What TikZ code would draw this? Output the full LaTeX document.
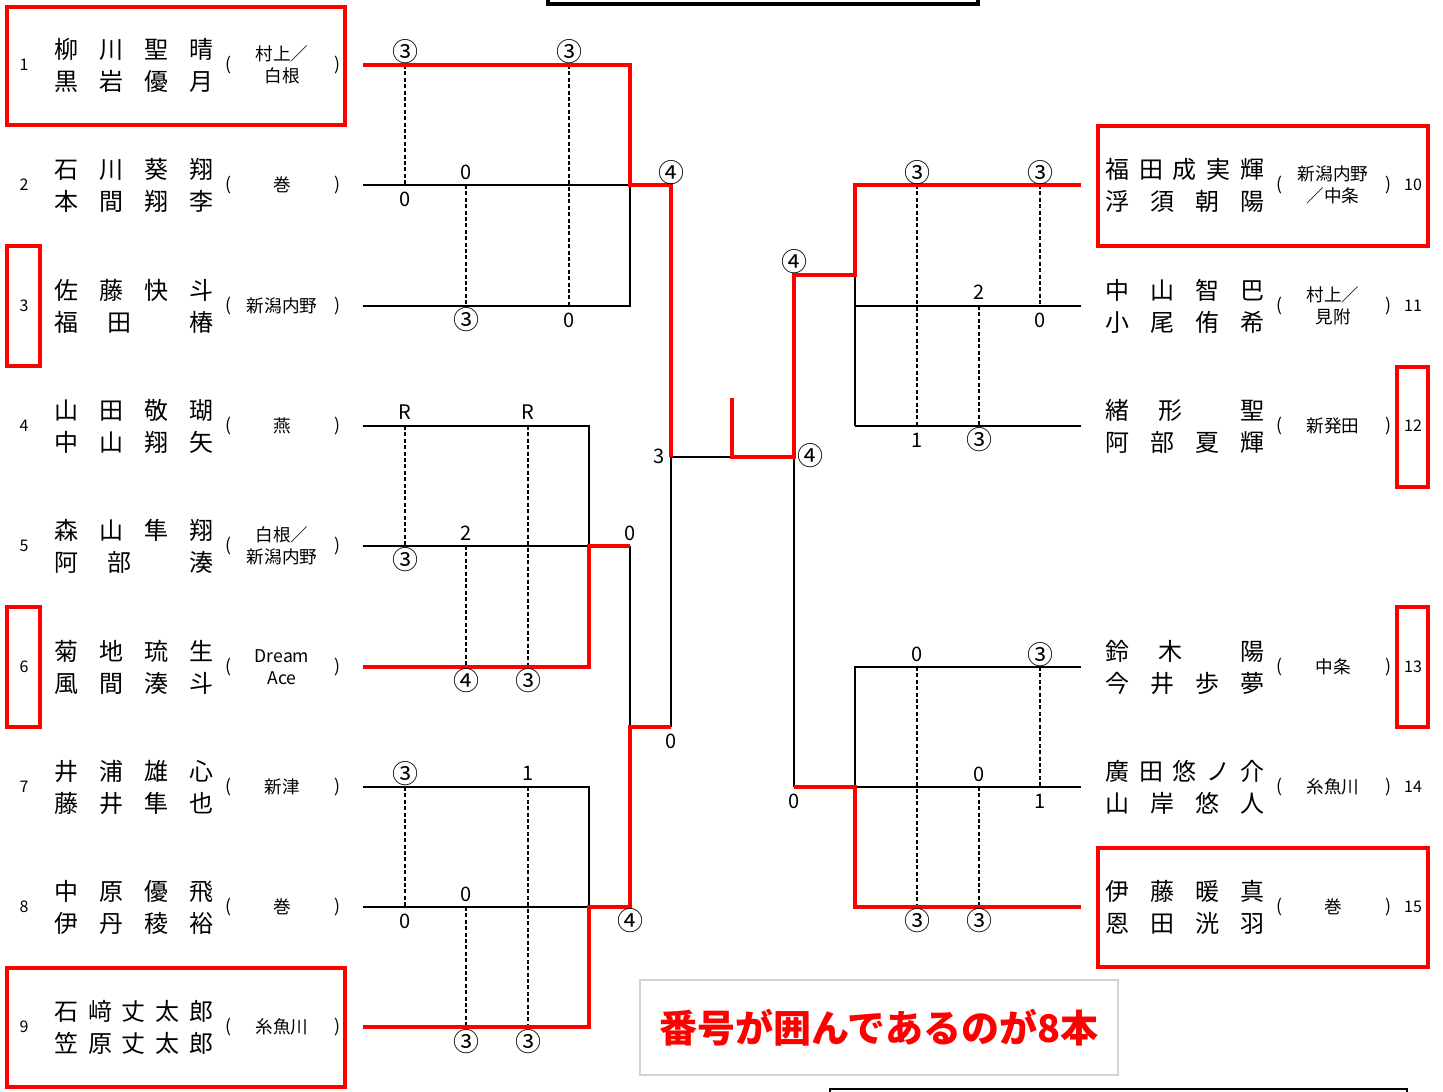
\documentclass[tikz,border=0pt]{standalone}
\usepackage{fontspec}
\setmainfont{Noto Sans CJK JP}
\begin{document}
\begin{tikzpicture}[x=0.5pt,y=-0.5pt,
  bl/.style={line width=1pt,black},
  rd/.style={line width=2pt,red,line join=miter},
  dsh/.style={line width=0.7pt,black,dash pattern=on 2pt off 1.2pt},
  rbox/.style={draw=red,line width=1.8pt},
  sc/.style={font=\fontsize{10}{10}\selectfont,inner sep=0pt},
  scc/.style={font=\fontsize{13}{13}\selectfont,inner sep=0pt},
  nm/.style={font=\fontsize{12}{12}\selectfont,inner sep=0pt},
  cl/.style={font=\fontsize{8.8}{11}\selectfont,inner sep=0pt,align=center},
  par/.style={font=\fontsize{8.8}{11}\selectfont,inner sep=0pt},
  num/.style={font=\fontsize{8}{8}\selectfont,inner sep=0pt}]
\useasboundingbox (0,0) rectangle (1443,1091);
\fill[white] (0,0) rectangle (1443,1091);
\newcommand\nmrow[4]{\node[nm,anchor=west] (#1) at (#2,#3) {\makebox[79.5pt]{#4}};}
\newcommand\entryL[6]{%
  \node[num] (n#1) at (24,#2) {#1};
  \nmrow{t#1}{54}{#2-16}{#3}
  \nmrow{b#1}{54}{#2+16}{#4}
  \node[par] (po#1) at (228,#2) {(};
  \node[cl] (c#1) at (282,#2) {#5};
  \node[par] (pc#1) at (337,#2) {)};}
\newcommand\entryR[6]{%
  \node[num] (n#1) at (1413,#2) {#1};
  \nmrow{t#1}{1105}{#2-16}{#3}
  \nmrow{b#1}{1105}{#2+16}{#4}
  \node[par] (po#1) at (1279,#2) {(};
  \node[cl] (c#1) at (1333,#2) {#5};
  \node[par] (pc#1) at (1388,#2) {)};}
% top and bottom partial boxes
\draw[line width=2pt] (548,-6) -- (548,4) -- (978,4) -- (978,-6);
\draw[line width=1pt] (830,1100) -- (830,1089) -- (1407,1089) -- (1407,1100);
% entries left
\entryL{1}{65}{柳\hfill 川\hfill 聖\hfill 晴}{黒\hfill 岩\hfill 優\hfill 月}{村上／\\白根}{}
\entryL{2}{185}{石\hfill 川\hfill 葵\hfill 翔}{本\hfill 間\hfill 翔\hfill 李}{巻}{}
\entryL{3}{306}{佐\hfill 藤\hfill 快\hfill 斗}{福\hspace{\stretch{1}}田\hspace{\stretch{2}}椿}{新潟内野}{}
\entryL{4}{426}{山\hfill 田\hfill 敬\hfill 瑚}{中\hfill 山\hfill 翔\hfill 矢}{燕}{}
\entryL{5}{546}{森\hfill 山\hfill 隼\hfill 翔}{阿\hspace{\stretch{1}}部\hspace{\stretch{2}}湊}{白根／\\新潟内野}{}
\entryL{6}{667}{菊\hfill 地\hfill 琉\hfill 生}{風\hfill 間\hfill 湊\hfill 斗}{Dream\\Ace}{}
\entryL{7}{787}{井\hfill 浦\hfill 雄\hfill 心}{藤\hfill 井\hfill 隼\hfill 也}{新津}{}
\entryL{8}{907}{中\hfill 原\hfill 優\hfill 飛}{伊\hfill 丹\hfill 稜\hfill 裕}{巻}{}
\entryL{9}{1027}{石\hfill 﨑\hfill 丈\hfill 太\hfill 郎}{笠\hfill 原\hfill 丈\hfill 太\hfill 郎}{糸魚川}{}
% entries right
\entryR{10}{185}{福\hfill 田\hfill 成\hfill 実\hfill 輝}{浮\hfill 須\hfill 朝\hfill 陽}{新潟内野\\／中条}{}
\entryR{11}{306}{中\hfill 山\hfill 智\hfill 巴}{小\hfill 尾\hfill 侑\hfill 希}{村上／\\見附}{}
\entryR{12}{426}{緒\hspace{\stretch{1}}形\hspace{\stretch{2}}聖}{阿\hfill 部\hfill 夏\hfill 輝}{新発田}{}
\entryR{13}{667}{鈴\hspace{\stretch{1}}木\hspace{\stretch{2}}陽}{今\hfill 井\hfill 歩\hfill 夢}{中条}{}
\entryR{14}{787}{廣\hfill 田\hfill 悠\hfill ノ\hfill 介}{山\hfill 岸\hfill 悠\hfill 人}{糸魚川}{}
\entryR{15}{907}{伊\hfill 藤\hfill 暖\hfill 真}{恩\hfill 田\hfill 洸\hfill 羽}{巻}{}
% red frames
\draw[rbox] (7,7) rectangle (345,125);
\draw[rbox] (7,246) rectangle (40,366);
\draw[rbox] (7,607) rectangle (40,727);
\draw[rbox] (7,968) rectangle (345,1087);
\draw[rbox] (1098,126) rectangle (1428,246);
\draw[rbox] (1397,367) rectangle (1428,487);
\draw[rbox] (1397,607) rectangle (1428,727);
\draw[rbox] (1098,848) rectangle (1428,967);
% dashed round-robin lines
\draw[dsh] (405,65)--(405,185) (466,185)--(466,306) (569,65)--(569,306);
\draw[dsh] (405,426)--(405,546) (466,546)--(466,667) (528,426)--(528,667);
\draw[dsh] (405,787)--(405,907) (466,907)--(466,1027) (528,787)--(528,1027);
\draw[dsh] (917,185)--(917,426) (1040,185)--(1040,306) (979,306)--(979,426);
\draw[dsh] (917,667)--(917,907) (1040,667)--(1040,787) (979,787)--(979,907);
% black lines
\draw[bl] (363,185)--(630,185) (363,306)--(630,306)--(630,185);
\draw[bl] (363,426)--(589,426)--(589,546) (363,546)--(589,546);
\draw[bl] (630,546)--(630,727);
\draw[bl] (363,787)--(589,787)--(589,907) (363,907)--(589,907);
\draw[bl] (671,457)--(671,727) (671,457)--(732,457);
\draw[bl] (794,457)--(794,787);
\draw[bl] (855,275)--(855,426) (855,306)--(1081,306) (855,426)--(1081,426);
\draw[bl] (1081,667)--(855,667)--(855,787)--(1081,787);
% red winner lines
\draw[rd] (363,65)--(630,65)--(630,185)--(671,185)--(671,457);
\draw[rd] (363,667)--(589,667)--(589,546)--(630,546);
\draw[rd] (363,1027)--(589,1027)--(589,907)--(630,907)--(630,727)--(671,727);
\draw[rd] (732,398)--(732,457)--(794,457)--(794,275)--(855,275)--(855,185)--(1081,185);
\draw[rd] (794,787)--(855,787)--(855,907)--(1081,907);
% scores bracket A
\node[scc] (sa1) at (405,52) {③};
\node[scc] (sa2) at (569,52) {③};
\node[sc] (sa3) at (466,172) {0};
\node[sc] (sa4) at (405,199) {0};
\node[scc] (sa5) at (466,320) {③};
\node[sc] (sa6) at (569,320) {0};
\node[scc] (sa7) at (671,173) {④};
% bracket B
\node[sc] (sb1) at (405,412) {R};
\node[sc] (sb2) at (528,412) {R};
\node[sc] (sb3) at (466,533) {2};
\node[scc] (sb4) at (405,560) {③};
\node[scc] (sb5) at (466,681) {④};
\node[scc] (sb6) at (528,681) {③};
\node[sc] (sb7) at (630,533) {0};
% bracket C
\node[scc] (sc1) at (405,774) {③};
\node[sc] (sc2) at (528,773) {1};
\node[sc] (sc3) at (466,894) {0};
\node[sc] (sc4) at (405,921) {0};
\node[scc] (sc5) at (466,1042) {③};
\node[scc] (sc6) at (528,1042) {③};
\node[scc] (sc7) at (630,921) {④};
\node[sc] (sc8) at (671,741) {0};
% centre
\node[sc] (sm1) at (659,456) {3};
\node[scc] (sm2) at (810,456) {④};
\node[scc] (sm3) at (794,262) {④};
\node[sc] (sm4) at (794,801) {0};
% right top
\node[scc] (sd1) at (917,173) {③};
\node[scc] (sd2) at (1040,173) {③};
\node[sc] (sd3) at (979,292) {2};
\node[sc] (sd4) at (1040,320) {0};
\node[sc] (sd5) at (917,440) {1};
\node[scc] (sd6) at (979,440) {③};
% right bottom
\node[sc] (se1) at (917,654) {0};
\node[scc] (se2) at (1040,655) {③};
\node[sc] (se3) at (979,774) {0};
\node[sc] (se4) at (1040,801) {1};
\node[scc] (se5) at (917,921) {③};
\node[scc] (se6) at (979,921) {③};
% note
\node[draw=gray!35,line width=0.6pt,minimum width=239pt,minimum height=47.5pt,inner sep=0pt,
  font=\fontsize{19}{19}\selectfont\bfseries,text=red] (note) at (879,1027.5) {番号が囲んであるのが8本};
\end{tikzpicture}
\end{document}
